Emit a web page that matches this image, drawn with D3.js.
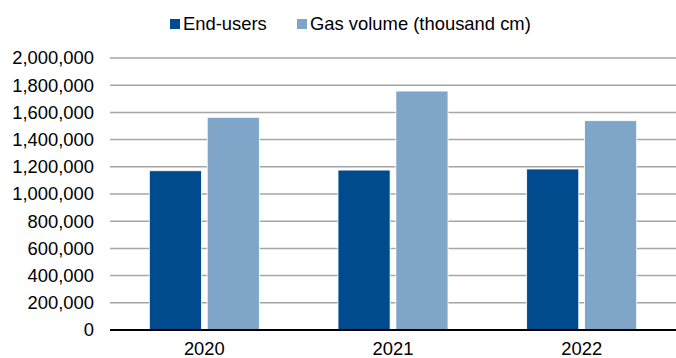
<!DOCTYPE html>
<html>
<head>
<meta charset="utf-8">
<script src="https://cdn.jsdelivr.net/npm/d3@7/dist/d3.min.js"></script>
<style>
  html, body { margin: 0; padding: 0; background: #fff; }
  svg { display: block; font-family: "Liberation Sans", Arial, sans-serif; }
</style>
</head>
<body>
<svg id="chart" width="676" height="358"></svg>
<script>
// Yearly figures
const years = ["2020", "2021", "2022"];
const seriesNames = ["End-users", "Gas volume (thousand cm)"];
const endUsers = [1171000, 1176000, 1184000];
const gasVolume = [1564000, 1757000, 1539000];
const yTicks = [0, 200000, 400000, 600000, 800000, 1000000, 1200000, 1400000, 1600000, 1800000, 2000000];
const colors = ["#004b8d", "#7fa6c8"];

const rows = years.map((y, i) => ({ year: y, values: [endUsers[i], gasVolume[i]] }));

const svg = d3.select("#chart");
const margin = { left: 110, right: 0, top: 58, bottom: 28 };
const W = 676, H = 358;
const FS = 18.4;

const y = d3.scaleLinear().domain([0, 2000000]).range([H - margin.bottom, margin.top]);
const x0 = d3.scaleBand().domain(years).range([margin.left, W - margin.right])
  .paddingInner(0.417).paddingOuter(0.2085);
const x1 = d3.scaleBand().domain(seriesNames).range([0, x0.bandwidth()]).paddingInner(0.1);

const fmt = d3.format(",");

// gridlines
svg.append("g")
  .selectAll("line")
  .data(yTicks.filter(d => d > 0))
  .join("line")
  .attr("x1", margin.left).attr("x2", W - margin.right)
  .attr("y1", d => y(d)).attr("y2", d => y(d))
  .attr("stroke", "#a6a6a6").attr("stroke-width", 1.5);

// y tick labels
const yAxis = svg.append("g")
  .attr("transform", `translate(${margin.left},0)`)
  .call(d3.axisLeft(y).tickValues(yTicks).tickFormat(fmt).tickSize(0).tickPadding(16));
yAxis.select(".domain").remove();
yAxis.selectAll("text").attr("font-size", FS).attr("fill", "#000")
  .attr("font-family", "Liberation Sans, Arial, sans-serif");

// bars
svg.append("g")
  .selectAll("g")
  .data(rows)
  .join("g")
  .attr("transform", d => `translate(${x0(d.year)},0)`)
  .selectAll("rect")
  .data(d => d.values.map((v, i) => ({ key: seriesNames[i], value: v, i })))
  .join("rect")
  .attr("x", d => x1(d.key))
  .attr("width", x1.bandwidth())
  .attr("y", d => y(d.value))
  .attr("height", d => y(0) - y(d.value))
  .attr("fill", d => colors[d.i])
  .attr("stroke", "#ffffff").attr("stroke-width", 0.8);

// baseline and x labels
const xAxis = svg.append("g")
  .attr("transform", `translate(0,${y(0)})`)
  .call(d3.axisBottom(x0).tickSize(0).tickPadding(12));
xAxis.select(".domain").attr("stroke", "#000").attr("stroke-width", 2)
  .attr("d", `M${margin.left},0H${W - margin.right}`);
xAxis.selectAll("text").attr("font-size", FS).attr("fill", "#000")
  .attr("font-family", "Liberation Sans, Arial, sans-serif");

// legend
const legend = svg.append("g").attr("font-size", FS);
const items = [{ x: 170 }, { x: 297 }];
seriesNames.forEach((name, i) => {
  const g = legend.append("g").attr("transform", `translate(${items[i].x},19)`);
  g.append("rect").attr("width", 10).attr("height", 10).attr("fill", colors[i]);
  g.append("text").attr("x", 13).attr("y", 11).attr("fill", "#000").text(name);
});
</script>
</body>
</html>
